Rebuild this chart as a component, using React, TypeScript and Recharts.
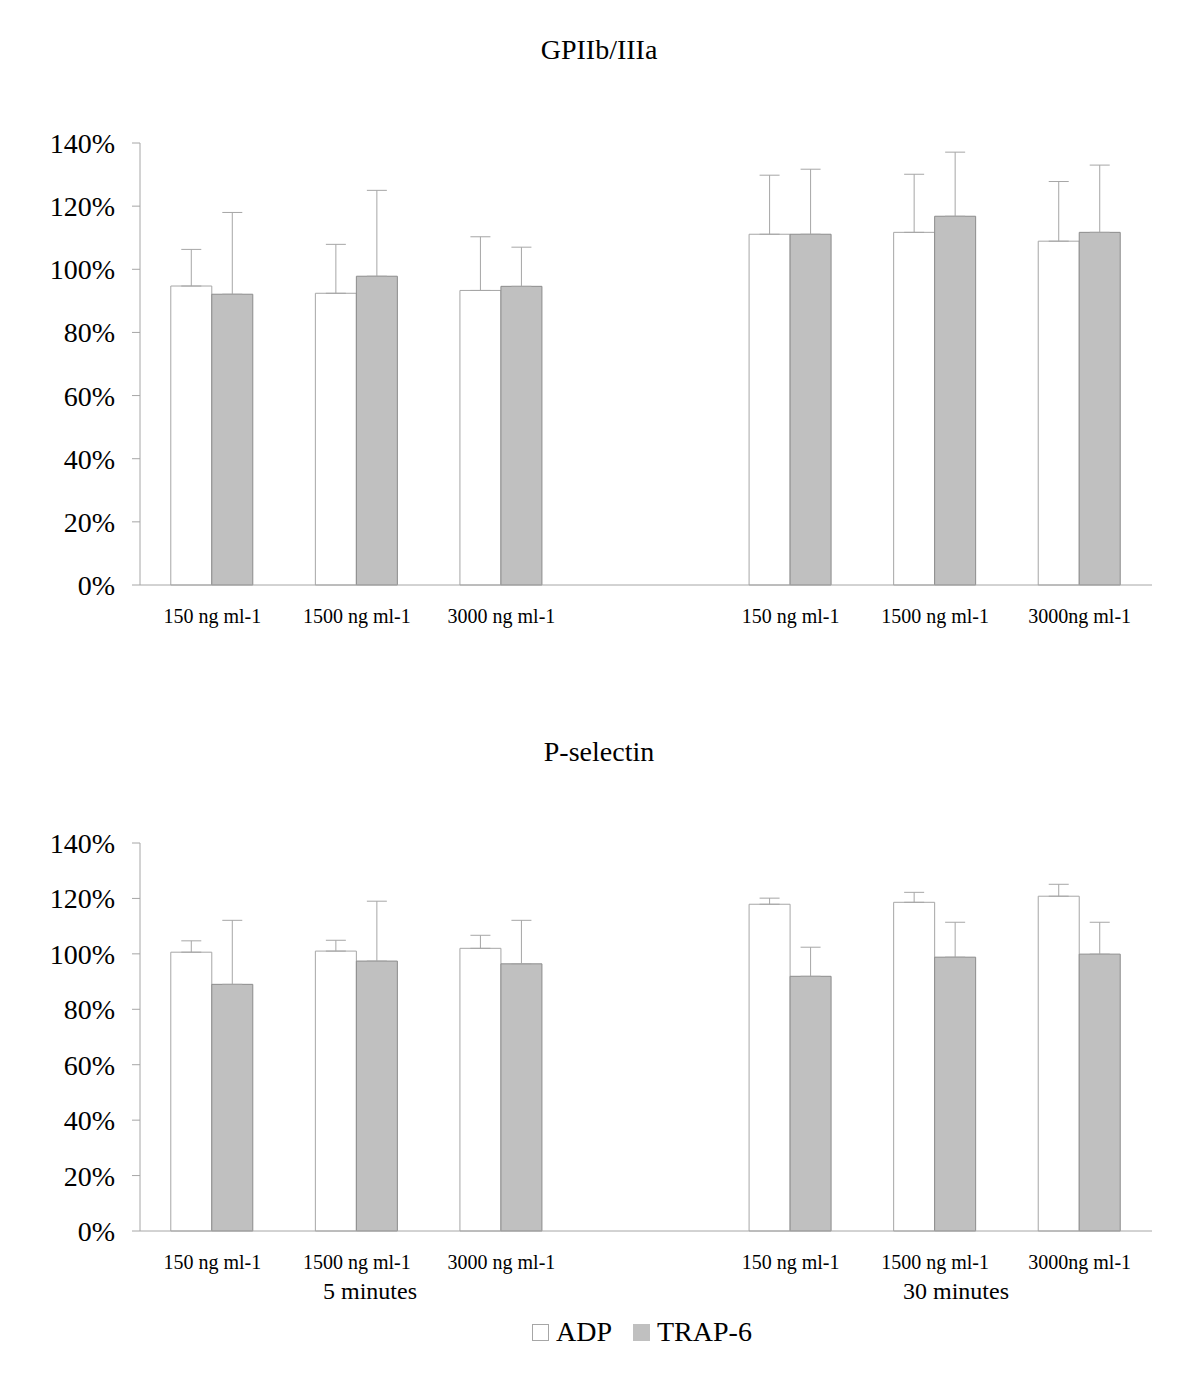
import React from 'react';
import { BarChart, Bar, XAxis, YAxis, ErrorBar } from 'recharts';

const categories = ['150 ng ml-1', '1500 ng ml-1', '3000 ng ml-1', '', '150 ng ml-1', '1500 ng ml-1', '3000ng ml-1'];
const seriesNames = ['ADP', 'TRAP-6'];
const groupLabels = ['5 minutes', '30 minutes'];
const panelTitles = ['GPIIb/IIIa', 'P-selectin'];
const yTicks = [0, 20, 40, 60, 80, 100, 120, 140];

const gpAdp = [94.7, 92.4, 93.3, null, 111.1, 111.7, 108.9];
const gpAdpErr = [11.6, 15.5, 17.0, null, 18.7, 18.4, 18.9];
const gpTrap = [92.1, 97.8, 94.6, null, 111.1, 116.8, 111.7];
const gpTrapErr = [25.9, 27.2, 12.4, null, 20.6, 20.3, 21.3];

const psAdp = [100.6, 101.0, 102.0, null, 117.9, 118.6, 120.8];
const psAdpErr = [4.1, 3.9, 4.7, null, 2.2, 3.6, 4.3];
const psTrap = [89.0, 97.4, 96.4, null, 91.9, 98.8, 99.9];
const psTrapErr = [23.1, 21.6, 15.7, null, 10.5, 12.6, 11.5];

const FONT = '"Liberation Serif", "Times New Roman", serif';
const AXIS = '#a6a6a6';
const ADP_FILL = '#ffffff';
const ADP_STROKE = '#a6a6a6';
const TRAP_FILL = '#c0c0c0';
const TRAP_STROKE = '#8c8c8c';

function build(adp: (number | null)[], adpErr: (number | null)[], trap: (number | null)[], trapErr: (number | null)[]) {
  return categories.map((c, i) => ({
    idx: i,
    adp: adp[i],
    adpErr: adpErr[i] == null ? undefined : [0, adpErr[i]],
    trap: trap[i],
    trapErr: trapErr[i] == null ? undefined : [0, trapErr[i]],
  }));
}

const gpData = build(gpAdp, gpAdpErr, gpTrap, gpTrapErr);
const psData = build(psAdp, psAdpErr, psTrap, psTrapErr);

function Panel({ data, height, bottom }: { data: any[]; height: number; bottom: number }) {
  return (
    <BarChart
      width={1198}
      height={height}
      data={data}
      margin={{ top: 143, right: 46, left: 0, bottom }}
      barGap={0}
      barCategoryGap="21.3%"
    >
      <XAxis
        dataKey="idx"
        type="category"
        interval={0}
        tickFormatter={(v: number) => categories[v]}
        tickLine={false}
        axisLine={{ stroke: AXIS }}
        tickSize={6}
        tickMargin={18}
        height={40}
        tick={{ fontSize: 20, fill: '#000', fontFamily: FONT }}
      />
      <YAxis
        type="number"
        domain={[0, 140]}
        ticks={yTicks}
        interval={0}
        tickFormatter={(v: number) => `${v}%`}
        width={140}
        axisLine={{ stroke: AXIS }}
        tickLine={{ stroke: AXIS }}
        tickSize={8}
        tickMargin={17}
        tick={{ fontSize: 28, fill: '#000', fontFamily: FONT }}
      />
      <Bar dataKey="adp" name={seriesNames[0]} fill={ADP_FILL} stroke={ADP_STROKE} strokeWidth={1} isAnimationActive={false}>
        <ErrorBar dataKey="adpErr" width={10} stroke={AXIS} strokeWidth={1} direction="y" />
      </Bar>
      <Bar dataKey="trap" name={seriesNames[1]} fill={TRAP_FILL} stroke={TRAP_STROKE} strokeWidth={1} isAnimationActive={false}>
        <ErrorBar dataKey="trapErr" width={10} stroke={AXIS} strokeWidth={1} direction="y" />
      </Bar>
    </BarChart>
  );
}

const textStyle: React.CSSProperties = {
  position: 'absolute',
  fontFamily: FONT,
  color: '#000',
  whiteSpace: 'nowrap',
  lineHeight: 1,
};

export default function App() {
  return (
    <div style={{ position: 'absolute', left: 0, top: 0, width: 1198, height: 1382, background: '#fff', fontFamily: FONT }}>
      <div style={{ position: 'absolute', left: 0, top: 0 }}>
        <Panel data={gpData} height={640} bottom={15} />
      </div>
      <div style={{ position: 'absolute', left: 0, top: 700 }}>
        <Panel data={psData} height={600} bottom={29} />
      </div>
      <div style={{ ...textStyle, left: 0, width: 1198, textAlign: 'center', top: 36, fontSize: 28 }}>{panelTitles[0]}</div>
      <div style={{ ...textStyle, left: 0, width: 1198, textAlign: 'center', top: 738, fontSize: 28 }}>{panelTitles[1]}</div>
      <div style={{ ...textStyle, left: 270, width: 200, textAlign: 'center', top: 1279, fontSize: 24 }}>{groupLabels[0]}</div>
      <div style={{ ...textStyle, left: 856, width: 200, textAlign: 'center', top: 1279, fontSize: 24 }}>{groupLabels[1]}</div>
      <div style={{ position: 'absolute', left: 532, top: 1318, display: 'flex', alignItems: 'center', fontFamily: FONT, fontSize: 28, lineHeight: 1 }}>
        <span style={{ display: 'inline-block', width: 17, height: 17, background: ADP_FILL, border: `1px solid ${ADP_STROKE}`, boxSizing: 'border-box' }} />
        <span style={{ marginLeft: 7 }}>{seriesNames[0]}</span>
        <span style={{ display: 'inline-block', width: 17, height: 17, background: TRAP_FILL, border: `1px solid ${TRAP_FILL}`, boxSizing: 'border-box', marginLeft: 21 }} />
        <span style={{ marginLeft: 7 }}>{seriesNames[1]}</span>
      </div>
    </div>
  );
}
